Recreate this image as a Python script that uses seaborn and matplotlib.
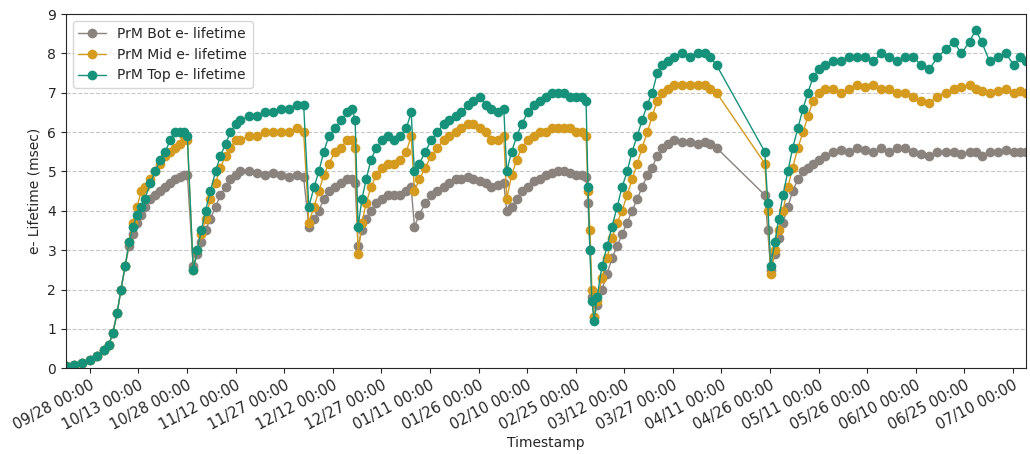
import numpy as np
import pandas as pd
import matplotlib
matplotlib.use("Agg")
import matplotlib.pyplot as plt
import matplotlib.dates as mdates
import seaborn as sns

# Purity monitor electron lifetime readings (days after 2018-09-28)
START = pd.Timestamp("2018-09-28")

days = [
    -7.4, -5.0, -2.5, 0.0, 2.2, 4.3, 5.9, 7.1, 8.4, 9.6, 10.9, 12.1, 13.3, 14.6, 15.8, 17.0,
    18.6, 20.2, 21.7, 23.3, 24.8, 26.4, 27.9, 29.2, 30.1, 31.9,
    33.2, 34.4, 35.7, 37.2, 38.8, 40.3, 41.9, 43.4, 45.0, 46.5, 49.0, 51.5, 54.0, 56.4,
    58.9, 61.4, 63.9, 66.0, 67.6,
    69.2, 70.7, 72.2, 73.8, 75.7, 77.5, 79.4, 80.9, 81.9, 82.8,
    84.0, 85.3, 86.8, 88.4, 90.2, 92.1, 94.0, 95.8, 97.7, 99.2, 100.2,
    101.7, 103.6, 105.4, 107.3, 109.2, 111.0, 112.9, 114.7, 116.6, 118.4, 120.3, 122.2,
    124.0, 125.9, 127.8, 128.7,
    130.2, 131.8, 133.3, 135.2, 137.0, 138.9, 140.8, 142.6, 144.5, 146.4, 148.2, 150.1,
    151.9, 153.2, 153.8, 154.4, 155.0, 155.7,
    156.6, 158.1, 159.7, 161.2, 162.8, 164.3, 165.9, 167.4, 169.0, 170.5, 172.1, 173.6,
    175.2, 176.7, 178.6, 180.5, 182.9, 185.4, 187.9, 189.8, 191.6, 193.5,
    208.4, 209.3, 210.2,
    211.5, 212.7, 214.0, 215.5, 217.0, 218.6, 220.2, 221.7, 223.3, 225.1, 227.0, 229.5,
    231.9, 234.4, 236.9, 239.4, 241.9, 244.3, 246.8, 249.3, 251.8, 254.3, 256.7, 259.2,
    261.7, 264.2, 266.7, 269.1, 271.6, 273.5, 275.3, 277.8, 280.3, 282.8, 285.3, 287.1, 289.0,
]

bot = [
    0.05, 0.08, 0.12, 0.2, 0.32, 0.45, 0.6, 0.9, 1.4, 2.0, 2.6, 3.1, 3.4, 3.7, 3.9, 4.1,
    4.3, 4.4, 4.5, 4.6, 4.7, 4.8, 4.85, 4.9, 4.9, 2.6,
    2.9, 3.2, 3.5, 3.8, 4.1, 4.4, 4.6, 4.8, 4.9, 5.0, 5.0, 4.95, 4.9, 4.95,
    4.9, 4.85, 4.9, 4.85, 3.6,
    3.8, 4.0, 4.3, 4.5, 4.6, 4.7, 4.8, 4.8, 4.7, 3.1,
    3.5, 3.8, 4.0, 4.2, 4.3, 4.4, 4.4, 4.4, 4.5, 4.6, 3.6,
    3.9, 4.2, 4.4, 4.5, 4.6, 4.7, 4.8, 4.8, 4.85, 4.8, 4.75, 4.7,
    4.6, 4.65, 4.7, 4.0,
    4.1, 4.3, 4.5, 4.6, 4.75, 4.8, 4.9, 4.95, 5.0, 5.0, 4.95, 4.9,
    4.9, 4.85, 4.2, 3.0, 1.8, 1.3,
    1.6, 2.0, 2.4, 2.8, 3.1, 3.4, 3.7, 4.0, 4.3, 4.6, 4.9, 5.1,
    5.4, 5.6, 5.7, 5.8, 5.75, 5.75, 5.7, 5.75, 5.7, 5.6,
    4.4, 3.5, 2.5,
    2.9, 3.3, 3.7, 4.1, 4.5, 4.8, 5.0, 5.1, 5.2, 5.3, 5.4, 5.5,
    5.55, 5.5, 5.6, 5.55, 5.5, 5.6, 5.5, 5.6, 5.6, 5.5, 5.45, 5.4,
    5.5, 5.5, 5.5, 5.45, 5.5, 5.5, 5.4, 5.5, 5.5, 5.55, 5.5, 5.5, 5.5,
]

mid = [
    0.05, 0.08, 0.12, 0.2, 0.32, 0.45, 0.6, 0.9, 1.4, 2.0, 2.6, 3.2, 3.7, 4.1, 4.5, 4.6,
    4.8, 5.0, 5.2, 5.4, 5.5, 5.6, 5.7, 5.9, 5.8, 2.5,
    3.0, 3.4, 3.8, 4.3, 4.7, 5.1, 5.4, 5.6, 5.8, 5.8, 5.9, 5.9, 6.0, 6.0,
    6.0, 6.0, 6.1, 6.0, 3.7,
    4.1, 4.5, 4.9, 5.2, 5.5, 5.6, 5.8, 5.8, 5.6, 2.9,
    3.7, 4.2, 4.6, 4.9, 5.1, 5.2, 5.2, 5.3, 5.5, 5.9, 4.5,
    4.8, 5.1, 5.4, 5.6, 5.8, 5.9, 6.0, 6.1, 6.2, 6.2, 6.1, 6.0,
    5.8, 5.8, 5.9, 4.3,
    4.9, 5.3, 5.6, 5.8, 5.9, 6.0, 6.0, 6.1, 6.1, 6.1, 6.1, 6.0,
    6.0, 5.9, 4.5, 3.5, 2.0, 1.3,
    1.7, 2.3, 2.8, 3.3, 3.7, 4.0, 4.4, 4.8, 5.2, 5.6, 6.0, 6.4,
    6.8, 7.0, 7.1, 7.2, 7.2, 7.2, 7.2, 7.2, 7.1, 7.0,
    5.2, 4.0, 2.4,
    3.0, 3.5, 4.0, 4.6, 5.1, 5.6, 6.0, 6.4, 6.8, 7.0, 7.1, 7.1,
    7.0, 7.1, 7.2, 7.15, 7.2, 7.1, 7.1, 7.0, 7.0, 6.9, 6.8, 6.75,
    6.9, 7.0, 7.1, 7.15, 7.2, 7.1, 7.05, 7.0, 7.05, 7.1, 7.0, 7.05, 7.0,
]

top = [
    0.05, 0.08, 0.12, 0.2, 0.32, 0.45, 0.6, 0.9, 1.4, 2.0, 2.6, 3.2, 3.6, 3.9, 4.1, 4.3,
    4.7, 5.0, 5.3, 5.5, 5.8, 6.0, 6.0, 6.0, 5.9, 2.5,
    3.0, 3.5, 4.0, 4.5, 5.0, 5.4, 5.7, 6.0, 6.2, 6.3, 6.4, 6.4, 6.5, 6.5,
    6.6, 6.6, 6.7, 6.7, 4.1,
    4.6, 5.0, 5.5, 5.9, 6.1, 6.3, 6.5, 6.6, 6.3, 3.6,
    4.3, 4.8, 5.3, 5.6, 5.8, 5.9, 5.8, 5.9, 6.1, 6.5, 5.0,
    5.2, 5.5, 5.8, 6.0, 6.2, 6.3, 6.4, 6.5, 6.7, 6.8, 6.9, 6.7,
    6.6, 6.5, 6.6, 5.0,
    5.5, 5.9, 6.2, 6.5, 6.7, 6.8, 6.9, 7.0, 7.0, 7.0, 6.9, 6.9,
    6.9, 6.8, 4.6, 3.0, 1.7, 1.2,
    1.8, 2.6, 3.1, 3.6, 4.1, 4.6, 5.0, 5.5, 5.9, 6.3, 6.7, 7.0,
    7.5, 7.7, 7.8, 7.9, 8.0, 7.9, 8.0, 8.0, 7.9, 7.7,
    5.5, 4.2, 2.6,
    3.2, 3.8, 4.4, 5.0, 5.6, 6.1, 6.6, 7.0, 7.4, 7.6, 7.7, 7.8,
    7.8, 7.9, 7.9, 7.9, 7.8, 8.0, 7.9, 7.8, 7.9, 7.9, 7.7, 7.6,
    7.9, 8.1, 8.3, 8.0, 8.3, 8.6, 8.3, 7.8, 7.9, 8.0, 7.7, 7.9, 7.8,
]

series_names = ["PrM Bot e- lifetime", "PrM Mid e- lifetime", "PrM Top e- lifetime"]
series_colors = ["#8a827d", "#d49b1e", "#16927a"]

stamps = START + pd.to_timedelta(days, unit="D")
wide = pd.DataFrame({"Timestamp": stamps,
                     series_names[0]: bot,
                     series_names[1]: mid,
                     series_names[2]: top})
df = wide.melt(id_vars="Timestamp", var_name="series", value_name="lifetime")

sns.set_style("ticks")
plt.rcParams["font.family"] = ["DejaVu Sans"]

fig, ax = plt.subplots(figsize=(10.30, 4.54), dpi=100)
fig.subplots_adjust(left=0.064, right=0.996, top=0.969, bottom=0.189)

for name, color in zip(series_names, series_colors):
    sub = df[df["series"] == name]
    sns.lineplot(data=sub, x="Timestamp", y="lifetime", ax=ax, color=color,
                 marker="o", markersize=7, markeredgewidth=0, linewidth=1,
                 estimator=None, sort=False, label=name)

tick_dates = pd.date_range("2018-09-28", "2019-07-10", freq="15D")
ax.set_xticks(tick_dates)
ax.xaxis.set_major_formatter(mdates.DateFormatter("%m/%d %H:%M"))
plt.setp(ax.get_xticklabels(), rotation=28, ha="right", rotation_mode="anchor",
         fontsize=10.5)

ax.set_xlim(stamps[0], stamps[-1])
ax.set_ylim(0, 9)
ax.set_yticks(range(0, 10))
ax.yaxis.grid(True, linestyle="--", color="#c8c8c8", linewidth=0.8)
ax.set_axisbelow(True)

ax.set_xlabel("Timestamp", labelpad=2)
ax.set_ylabel("e- Lifetime (msec)")
ax.legend(loc="upper left", frameon=True)

plt.savefig("out.png", dpi=100)
plt.close()
